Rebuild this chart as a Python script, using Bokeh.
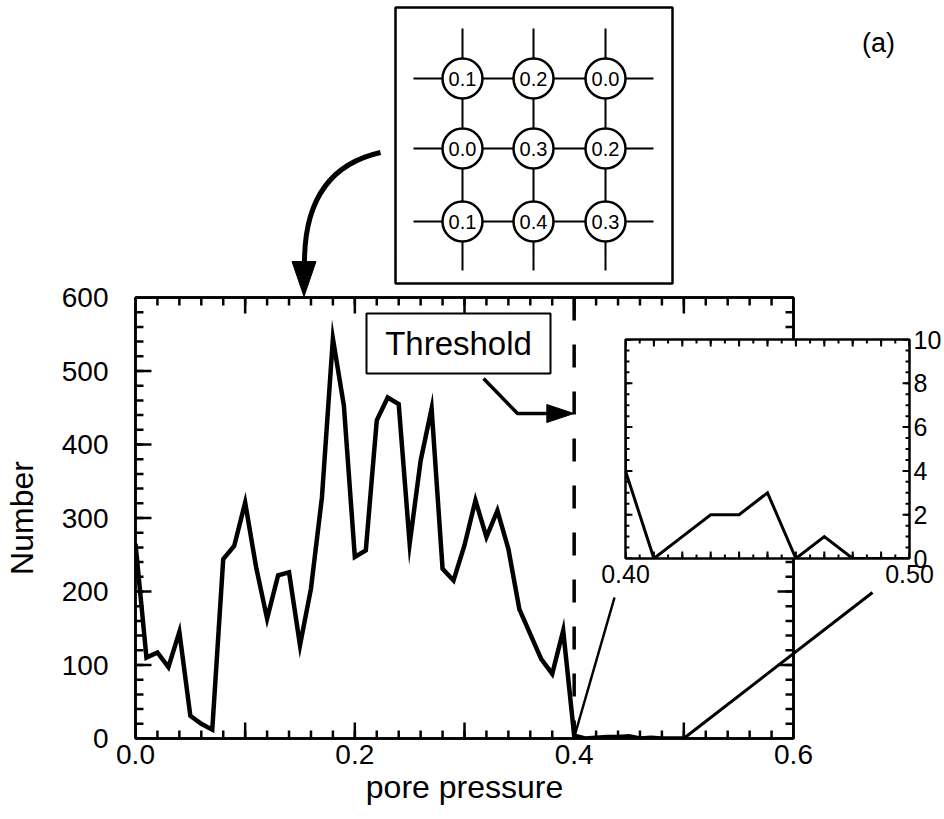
from bokeh.plotting import figure
from bokeh.models import Range1d, LinearAxis, FixedTicker, CustomJSTickFormatter
from bokeh.embed import file_html
from bokeh.resources import INLINE
from bokeh.core.properties import value

# ---------------- data ----------------
pore_pressure = [0.00, 0.01, 0.02, 0.03, 0.04, 0.05, 0.06, 0.07, 0.08, 0.09,
                 0.10, 0.11, 0.12, 0.13, 0.14, 0.15, 0.16, 0.17, 0.18, 0.19,
                 0.20, 0.21, 0.22, 0.23, 0.24, 0.25, 0.26, 0.27, 0.28, 0.29,
                 0.30, 0.31, 0.32, 0.33, 0.34, 0.35, 0.36, 0.37, 0.38, 0.39,
                 0.40, 0.41, 0.42, 0.43, 0.44, 0.45, 0.46, 0.47, 0.48, 0.49,
                 0.50]
counts = [265, 110, 117, 97, 145, 31, 20, 12, 244, 262,
          321, 233, 163, 222, 226, 127, 204, 328, 544, 453,
          247, 256, 433, 464, 455, 265, 378, 449, 231, 215,
          263, 324, 274, 310, 258, 176, 142, 108, 88, 147,
          4, 0, 1, 2, 2, 3, 0, 1, 0, 0,
          0]
threshold = 0.40
main_x_ticks = [0.0, 0.1, 0.2, 0.3, 0.4, 0.5, 0.6]
main_x_labelled = [0.0, 0.2, 0.4, 0.6]
main_y_ticks = [0, 100, 200, 300, 400, 500, 600]
inset_x_ticks = [0.40, 0.41, 0.42, 0.43, 0.44, 0.45, 0.46, 0.47, 0.48, 0.49, 0.50]
inset_x_labelled = [0.40, 0.50]
inset_y_ticks = [0, 2, 4, 6, 8, 10]
grid_values = [[0.1, 0.2, 0.0],
               [0.0, 0.3, 0.2],
               [0.1, 0.4, 0.3]]
x_title = "pore pressure"
y_title = "Number"
threshold_text = "Threshold"
panel_label = "(a)"

# ---------------- layout constants (pixels) ----------------
FONT = "Liberation Sans"
W, H = 944, 819
L, R, T, B = 134, 793, 297, 738          # main frame
IL, IR, IT, IB = 625, 912, 339, 558      # inset frame
XMAX, YMAX = 0.6, 600
IX0, IX1, IY0, IY1 = 0.40, 0.50, 0, 10


def main_px(x):
    return L + x / XMAX * (R - L)


def style_axis(ax, ticks, lw, font_size=None, standoff=0, formatter=None, hide=False):
    ax.ticker = FixedTicker(ticks=ticks)
    ax.major_tick_in = 0
    ax.major_tick_out = 0
    ax.minor_tick_in = 0
    ax.minor_tick_out = 0
    ax.axis_line_width = lw
    ax.axis_line_color = "black"
    ax.major_label_text_font = FONT
    ax.major_label_text_color = "black"
    ax.axis_label_text_font = FONT
    ax.axis_label_text_font_style = "normal"
    ax.axis_label_text_color = "black"
    if hide:
        ax.formatter = CustomJSTickFormatter(code="return '';")
        ax.major_label_text_font_size = "0px"
        ax.major_label_standoff = 0
    else:
        ax.major_label_text_font_size = font_size
        ax.major_label_standoff = standoff
        if formatter is not None:
            ax.formatter = formatter


def seg_ticks(fig, xt, xm, yt, ym, x0, x1, y0, y1, fw, fh, maj, mnr, lw):
    """Inward tick marks on all four frame sides, lengths given in pixels."""
    dx = (x1 - x0) / fw   # data units per pixel
    dy = (y1 - y0) / fh
    sx0, sy0, sx1, sy1 = [], [], [], []
    for xs, ln in ((xt, maj), (xm, mnr)):
        for x in xs:
            sx0 += [x, x]; sx1 += [x, x]
            sy0 += [y0, y1]; sy1 += [y0 + ln * dy, y1 - ln * dy]
    for ys, ln in ((yt, maj), (ym, mnr)):
        for y in ys:
            sy0 += [y, y]; sy1 += [y, y]
            sx0 += [x0, x1]; sx1 += [x0 + ln * dx, x1 - ln * dx]
    fig.segment(x0=sx0, y0=sy0, x1=sx1, y1=sy1, line_width=lw, color="black")


# ---------------- main plot ----------------
p = figure(width=W, height=H, x_range=Range1d(0, XMAX), y_range=Range1d(0, YMAX),
           output_backend="svg", toolbar_location=None,
           min_border_left=L, min_border_right=W - R, min_border_top=T,
           min_border_bottom=H - B, x_axis_label=x_title, y_axis_label=y_title,
           background_fill_color="white", border_fill_color="white")
p.xgrid.visible = False
p.ygrid.visible = False
p.outline_line_color = "black"
p.outline_line_width = 2.5

x_minor = [round(0.02 * i, 2) for i in range(31)]
y_minor = [20 * i for i in range(31)]
xfmt = CustomJSTickFormatter(args=dict(show=main_x_labelled),
                             code="return show.some(v => Math.abs(v - tick) < 1e-9) ? tick.toFixed(1) : '';")
style_axis(p.xaxis[0], main_x_ticks, 2.5, "28px", 6, xfmt)
style_axis(p.yaxis[0], main_y_ticks, 2.5, "28px", 27)
p.xaxis[0].axis_label_text_font_size = "32px"
p.xaxis[0].axis_label_standoff = 2
p.yaxis[0].axis_label_text_font_size = "32px"
p.yaxis[0].axis_label_standoff = 19

top_ax = LinearAxis()
style_axis(top_ax, main_x_ticks, 2.5, hide=True)
p.add_layout(top_ax, "above")
right_ax = LinearAxis()
style_axis(right_ax, main_y_ticks, 2.5, hide=True)
p.add_layout(right_ax, "right")

seg_ticks(p, main_x_ticks, x_minor, main_y_ticks, y_minor, 0, XMAX, 0, YMAX,
          R - L, B - T, 16, 8, 2.5)

p.line(pore_pressure, counts, line_width=4.5, color="black", line_join="miter")
p.segment(x0=[threshold], y0=[YMAX], x1=[threshold], y1=[0],
          line_width=3.5, color="black", line_dash="23 24")

# ---------------- inset ----------------
inset = figure(width=W, height=H, x_range=Range1d(IX0, IX1), y_range=Range1d(IY0, IY1),
               output_backend="svg", toolbar_location=None,
               min_border_left=IL, min_border_right=W - IR, min_border_top=IT,
               min_border_bottom=H - IB, y_axis_location="right",
               background_fill_color="white", border_fill_alpha=0)
inset.xgrid.visible = False
inset.ygrid.visible = False
inset.outline_line_color = "black"
inset.outline_line_width = 2
ix_minor = [round(0.40 + 0.005 * i, 3) for i in range(21)]
iy_minor = [0.5 * i for i in range(21)]
ixfmt = CustomJSTickFormatter(args=dict(show=inset_x_labelled),
                              code="return show.some(v => Math.abs(v - tick) < 1e-9) ? tick.toFixed(2) : '';")
style_axis(inset.xaxis[0], inset_x_ticks, 2, "25px", 6, ixfmt)
style_axis(inset.yaxis[0], inset_y_ticks, 2, "25px", 4)
i_left = LinearAxis()
style_axis(i_left, inset_y_ticks, 2, hide=True)
inset.add_layout(i_left, "left")
i_top = LinearAxis()
style_axis(i_top, inset_x_ticks, 2, hide=True)
inset.add_layout(i_top, "above")
seg_ticks(inset, inset_x_ticks, ix_minor, inset_y_ticks, iy_minor, IX0, IX1, IY0, IY1,
          IR - IL, IB - IT, 7, 4, 2)
inset.line(pore_pressure, counts, line_width=3, color="black", line_join="miter")
inset.styles = {"position": "absolute", "left": "0px", "top": "0px"}

# ---------------- overlay (annotations in page pixels) ----------------
ov = figure(width=W, height=H, x_range=Range1d(0, W), y_range=Range1d(H, 0),
            output_backend="svg", toolbar_location=None,
            min_border=0, min_border_left=0, min_border_right=0,
            min_border_top=0, min_border_bottom=0,
            x_axis_location=None, y_axis_location=None,
            background_fill_alpha=0, border_fill_alpha=0)
ov.xgrid.visible = False
ov.ygrid.visible = False
ov.outline_line_color = None

# lattice schematic
ov.quad(left=[395], right=[672], top=[7], bottom=[283], fill_color=None,
        line_color="black", line_width=2.5)
col_x = [462, 533, 605]
row_y = [78, 148, 221]
ov.segment(x0=[413] * 3, x1=[653] * 3, y0=row_y, y1=row_y, line_width=2, color="black")
ov.segment(x0=col_x, x1=col_x, y0=[28] * 3, y1=[270] * 3, line_width=2, color="black")
nx, ny, nt = [], [], []
for r, row in enumerate(grid_values):
    for c, v in enumerate(row):
        nx.append(col_x[c])
        ny.append(row_y[r])
        nt.append(f"{v:.1f}")
ov.circle(nx, ny, radius=20, fill_color="white", line_color="black", line_width=2.5)
ov.text(nx, ny, text=nt, text_align="center", text_baseline="middle",
        text_font=value(FONT), text_font_size="20px", text_color="black")

# curved arrow to main plot
ov.quadratic(x0=[380], y0=[152], x1=[304], y1=[262], cx=[304], cy=[169],
             line_width=5, color="black")
ov.patch([291.5, 315.5, 303.5], [261, 261, 296], color="black")

# panel label
ov.text([878], [42], text=[panel_label], text_align="center", text_baseline="middle",
        text_font=value(FONT), text_font_size="27px", text_color="black")

# threshold label + arrow
ov.quad(left=[366], right=[550], top=[313], bottom=[373], fill_color="white",
        line_color="black", line_width=2)
ov.text([458], [343], text=[threshold_text], text_align="center", text_baseline="middle",
        text_font=value(FONT), text_font_size="33px", text_color="black")
tip = main_px(threshold)
ov.line([483, 517, tip - 25], [378, 413, 413], line_width=3.5, color="black")
ov.patch([tip, tip - 27, tip - 27], [413, 404, 422], color="black")

# zoom connectors
ov.segment(x0=[main_px(inset_x_labelled[0])], y0=[B], x1=[614], y1=[597],
           line_width=2.5, color="black")
ov.segment(x0=[main_px(inset_x_labelled[1])], y0=[B], x1=[872], y1=[592],
           line_width=3, color="black")
ov.styles = {"position": "absolute", "left": "0px", "top": "0px"}

open("out.html", "w").write(file_html([p, inset, ov], INLINE))
